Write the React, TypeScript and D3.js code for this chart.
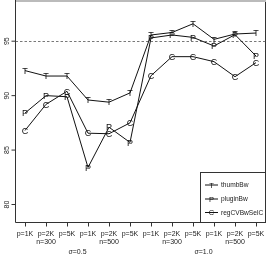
import React from "react";
import * as d3 from "d3";

const pLabels = ["p=1K","p=2K","p=5K","p=1K","p=2K","p=5K","p=1K","p=2K","p=5K","p=1K","p=2K","p=5K"];
const nLabels = ["n=300","n=500","n=300","n=500"];
const sigmaLabels = ["σ=0.5","σ=1.0"];
const yTicks = [80, 85, 90, 95];
const refLine = 95;

const thumbBw = [92.3, 91.8, 91.8, 89.6, 89.4, 90.25, 95.57, 95.8, 96.6, 95.17, 95.66, 95.75];
const pluginBw = [88.4, 90.0, 89.9, 83.4, 87.1, 85.7, 95.3, 95.57, 95.35, 94.56, 95.6, 93.64];
const regCVBwSelC = [86.8, 89.2, 90.4, 86.55, 86.5, 87.5, 91.83, 93.58, 93.58, 93.12, 91.74, 93.03];

const seriesNames = ["thumbBw", "pluginBw", "regCVBwSelC"];
const seriesMarks = ["T", "P", "C"];
const seriesData = [thumbBw, pluginBw, regCVBwSelC];

export default function App() {
  const W = 268, H = 255;
  const left = 15.5, right = 265.5, bottom = 222.5;
  const x = d3.scaleLinear().domain([0, 11]).range([25, 256]);
  const y = d3.scaleLinear().domain([80, 95]).range([204.5, 41.2]);
  const line = d3.line<number>().x((_, i) => x(i)).y((d) => y(d));
  const font = "Liberation Sans, Arial, Helvetica, sans-serif";
  const axisCol = "#333";
  const textCol = "#222";

  const legX = 200.5, legY = 172.5;
  const legRows = [185, 199, 212.5];

  return (
    <div style={{ position: "absolute", left: 0, top: 0, width: W, height: H, willChange: "transform", opacity: 0.999 }}>
    <svg width={W} height={H} style={{ display: "block" }} fontFamily={font}>
      <rect x={0} y={0} width={W} height={H} fill="#fff" />
      {/* frame */}
      <rect x={16} y={0} width={right - 16 + 0.5} height={2} fill="#bbb" />
      <line x1={left} y1={0} x2={left} y2={bottom} stroke={axisCol} strokeWidth={1} />
      <line x1={left} y1={bottom} x2={right} y2={bottom} stroke={axisCol} strokeWidth={1} />
      <line x1={right} y1={2} x2={right} y2={bottom} stroke={axisCol} strokeWidth={1} />
      {/* reference line */}
      <line x1={left} x2={right} y1={Math.round(y(refLine)) + 0.5} y2={Math.round(y(refLine)) + 0.5}
        stroke="#555" strokeWidth={0.8} strokeDasharray="2.5,2" />
      {/* y ticks */}
      {yTicks.map((t) => (
        <g key={t}>
          <line x1={left - 4} x2={left} y1={y(t)} y2={y(t)} stroke={axisCol} />
          <text transform={`translate(8.5,${y(t)}) rotate(-90)`} textAnchor="middle" fontSize={7} fill={textCol}>{t}</text>
        </g>
      ))}
      {/* x ticks */}
      {pLabels.map((p, i) => (
        <g key={i}>
          <line x1={Math.round(x(i)) + 0.5} x2={Math.round(x(i)) + 0.5} y1={bottom} y2={bottom + 4} stroke={axisCol} />
          <text x={x(i)} y={236} textAnchor="middle" fontSize={7} fill={textCol}>{p}</text>
        </g>
      ))}
      {nLabels.map((n, k) => (
        <text key={k} x={x(k * 3 + 1)} y={243.5} textAnchor="middle" fontSize={7} fill={textCol}>{n}</text>
      ))}
      {sigmaLabels.map((s, k) => (
        <text key={k} x={(x(k * 6) + x(k * 6 + 5)) / 2} y={254} textAnchor="middle" fontSize={7} fill={textCol}>{s}</text>
      ))}
      {/* series */}
      {seriesData.map((d, s) => (
        <g key={s}>
          <path d={line(d) || ""} fill="none" stroke="#111" strokeWidth={1} />
          {d.map((v, i) => (
            <text key={i} x={x(i)} y={y(v)} dy="0.36em" textAnchor="middle" fontSize={9} fill="#111">{seriesMarks[s]}</text>
          ))}
        </g>
      ))}
      {/* legend */}
      <rect x={legX} y={legY} width={right - legX} height={bottom - legY} fill="#fff" stroke={axisCol} strokeWidth={1} />
      {seriesNames.map((name, s) => (
        <g key={name}>
          <line x1={205} x2={218} y1={legRows[s]} y2={legRows[s]} stroke="#111" />
          <text x={211.5} y={legRows[s]} dy="0.36em" textAnchor="middle" fontSize={7.5} fill="#111">{seriesMarks[s]}</text>
          <text x={221} y={legRows[s]} dy="0.35em" fontSize={6.6} fill={textCol}>{name}</text>
        </g>
      ))}
    </svg>
    </div>
  );
}
